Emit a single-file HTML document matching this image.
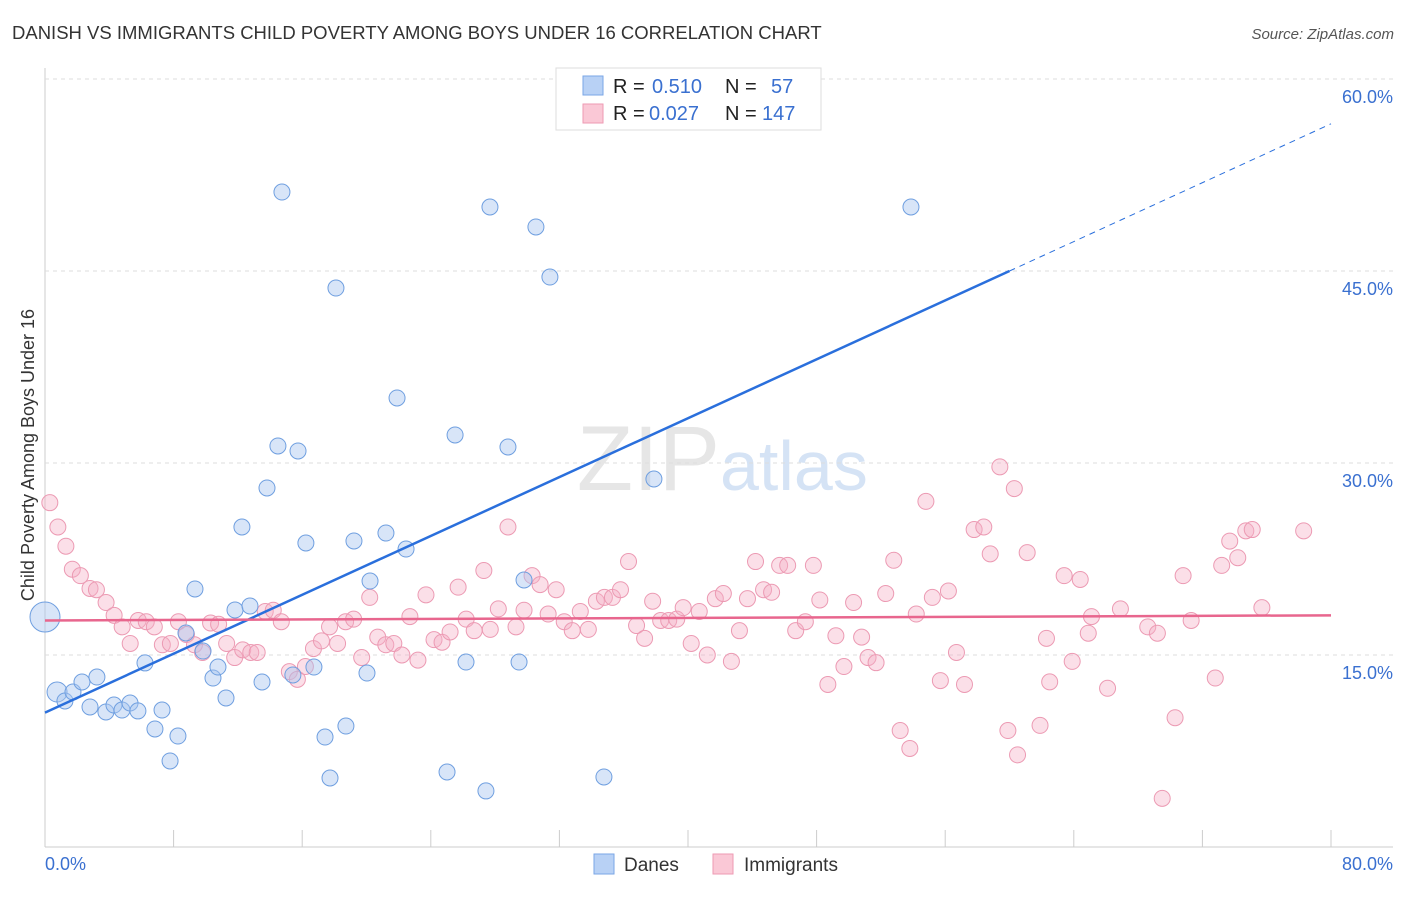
<!DOCTYPE html>
<html><head><meta charset="utf-8"><style>
body{margin:0;background:#fff;font-family:"Liberation Sans",sans-serif;}
svg text{font-family:"Liberation Sans",sans-serif;}
</style></head><body>
<svg id="c" width="1406" height="892">
<text x="12" y="39" font-size="18.5" fill="#333">DANISH VS IMMIGRANTS CHILD POVERTY AMONG BOYS UNDER 16 CORRELATION CHART</text>
<text x="1394" y="39" font-size="15" fill="#555" font-style="italic" text-anchor="end">Source: ZipAtlas.com</text>
<text x="720" y="490" font-size="92" fill="#e6e6e6" text-anchor="end" font-family="Liberation Serif">ZIP</text>
<text x="720" y="490" font-size="70" fill="#d5e3f5">atlas</text>
<g id="grid"></g><g id="pts"></g><g id="lines"></g>
<text x="34" y="455" font-size="18" fill="#333" text-anchor="middle" transform="rotate(-90 34 455)">Child Poverty Among Boys Under 16</text>
<text x="45" y="870" font-size="18" fill="#3a70d0">0.0%</text>
<text x="1393" y="870" font-size="18" fill="#3a70d0" text-anchor="end">80.0%</text>
<g>
<rect x="556" y="68" width="265" height="62" fill="#fff" stroke="#ddd"/>
<rect x="583" y="76" width="20" height="19" fill="#b8d1f5" stroke="#7aa6e6"/>
<rect x="583" y="104" width="20" height="19" fill="#fac8d6" stroke="#ee9ab3"/>
<text x="613" y="93" font-size="20" fill="#222">R =</text>
<text x="652" y="93" font-size="20" fill="#3a70d0">0.510</text>
<text x="725" y="93" font-size="20" fill="#222">N =</text>
<text x="771" y="93" font-size="20" fill="#3a70d0">57</text>
<text x="613" y="120" font-size="20" fill="#222">R =</text>
<text x="649" y="120" font-size="20" fill="#3a70d0">0.027</text>
<text x="725" y="120" font-size="20" fill="#222">N =</text>
<text x="762" y="120" font-size="20" fill="#3a70d0">147</text>
</g>
<g><rect x="594" y="854" width="20" height="20" fill="#b8d1f5" stroke="#7aa6e6"/><text x="624" y="871" font-size="19" fill="#333">Danes</text></g>
<g><rect x="713" y="854" width="20" height="20" fill="#fac8d6" stroke="#ee9ab3"/><text x="744" y="871" font-size="19" fill="#333">Immigrants</text></g>
</svg>
<script>
const yTicks=[15,30,45,60];
const daneX=[0,0.75,1.24,1.74,2.3,3.23,2.8,3.79,4.29,4.79,5.29,5.78,6.22,6.84,7.28,7.78,8.27,8.77,9.33,9.83,10.45,10.76,11.26,11.82,12.25,12.75,13.5,13.81,14.49,14.74,15.42,15.74,16.23,16.73,17.42,17.73,18.1,18.72,19.22,20.03,20.22,21.21,21.9,22.46,25.01,25.51,26.19,27.43,27.68,28.8,29.49,29.8,30.54,31.41,34.77,37.88,53.87];
const daneY=[17.97,12.11,11.41,12.11,12.89,13.28,10.94,10.55,11.09,10.7,11.25,10.63,14.38,9.22,10.7,6.72,8.67,16.72,20.16,15.31,13.2,14.06,11.64,18.52,25,18.83,12.89,28.05,31.33,51.17,13.44,30.94,23.75,14.06,8.59,5.39,43.67,9.45,23.91,13.59,20.78,24.53,35.08,23.28,5.86,32.19,14.45,4.38,50,31.25,14.45,20.86,48.44,44.53,5.47,28.75,50];
const immX=[0.3,0.8,1.3,1.7,2.2,2.8,3.2,3.8,4.3,4.8,5.3,5.8,6.3,6.8,7.3,7.8,8.3,8.8,9.3,9.8,10.3,10.8,11.3,11.8,12.3,12.8,13.2,13.7,14.2,14.7,15.2,15.7,16.2,16.7,17.2,17.7,18.2,18.7,19.2,19.7,20.2,20.7,21.2,21.7,22.2,22.7,23.2,23.7,24.2,24.7,25.2,25.7,26.2,26.7,27.3,27.7,28.2,28.8,29.3,29.8,30.3,30.8,31.3,31.8,32.3,32.8,33.3,33.8,34.3,34.8,35.3,35.8,36.3,36.8,37.3,37.8,38.3,38.8,39.3,39.7,40.2,40.7,41.2,41.7,42.2,42.7,43.2,43.7,44.2,44.7,45.2,45.7,46.2,46.7,47.3,47.8,48.2,48.7,49.2,49.7,50.3,50.8,51.2,51.7,52.3,52.8,53.2,53.8,54.2,54.8,55.2,55.7,56.2,56.7,57.2,57.8,58.4,58.8,59.4,59.9,60.3,60.5,61.1,61.9,62.3,62.5,63.4,63.9,64.4,64.9,65.1,66.1,66.9,68.6,69.2,69.5,70.3,70.8,71.3,72.8,73.2,73.7,74.2,74.7,75.1,75.7,78.3];
const immY=[26.9,25,23.5,21.7,21.2,20.2,20.1,19.1,18.1,17.2,15.9,17.7,17.6,17.2,15.8,15.9,17.6,16.6,15.8,15.2,17.5,17.4,15.9,14.8,15.4,15.2,15.2,18.4,18.5,17.6,13.7,13.1,14.1,15.5,16.1,17.2,15.9,17.6,17.8,14.8,19.5,16.4,15.8,15.9,15,18,14.6,19.7,16.2,16,16.8,20.3,17.8,16.9,21.6,17,18.6,25,17.2,18.5,21.2,20.5,18.2,20.1,17.6,16.9,18.4,17,19.2,19.5,19.5,20.1,22.3,17.3,16.3,19.2,17.7,17.7,17.8,18.7,15.9,18.4,15,19.4,19.8,14.5,16.9,19.4,22.3,20.1,19.9,22,22,16.9,17.6,22,19.3,12.7,16.5,14.1,19.1,16.4,14.8,14.4,19.8,22.4,9.1,7.7,18.2,27,19.5,13,20,15.2,12.7,24.8,25,22.9,29.7,9.1,28,7.2,23,9.5,16.3,12.9,21.2,14.5,20.9,16.7,18,12.4,18.6,17.2,16.7,3.8,10.1,21.2,17.7,13.2,22,23.9,22.6,24.7,24.8,18.7,24.7];
const daneFit=[10.5,0.575], daneFitEnd=60, immFit=[17.7,0.005];
const X=v=>45+v/80*1286, Y=v=>847-v/15*192;
const NS="http://www.w3.org/2000/svg";
function mk(tag,at,parent){const e=document.createElementNS(NS,tag);for(const k in at)e.setAttribute(k,at[k]);document.getElementById(parent).appendChild(e);return e;}
mk('line',{x1:45,y1:68,x2:45,y2:847,stroke:'#ccc'},'grid');
mk('line',{x1:45,y1:847,x2:1393,y2:847,stroke:'#ccc'},'grid');
for(let i=1;i<=10;i++){mk('line',{x1:X(i*8),y1:830,x2:X(i*8),y2:847,stroke:'#ccc'},'grid');}
yTicks.forEach(t=>{
 const l=mk('line',{x1:45,y1:Y(t),x2:1393,y2:Y(t),stroke:'#ddd','stroke-dasharray':'4,4'},'grid');
 
 
 const tx=mk('text',{x:1393,y:Y(t)+24,'font-size':18,fill:'#3a70d0','text-anchor':'end'},'grid');
 tx.textContent=t.toFixed(1)+'%';
 
 
});
immX.forEach((x,i)=>{
 const c=mk('circle',{cx:X(x),cy:Y(immY[i]),r:8,fill:'rgba(246,176,198,0.4)',stroke:'#ec9ab3','stroke-width':1},'pts');
 
 
});
daneX.forEach((x,i)=>{
 const r=i==0?15:(i==1?10:8);
 const c=mk('circle',{cx:X(x),cy:Y(daneY[i]),r:r,fill:'rgba(168,198,240,0.45)',stroke:'#6f9fe0','stroke-width':1},'pts');
 
 
});
const f=(p,x)=>p[0]+p[1]*x;
let l1=mk('line',{x1:X(0),y1:Y(f(daneFit,0)),x2:X(daneFitEnd),y2:Y(f(daneFit,daneFitEnd)),stroke:'#2a6fdc','stroke-width':2.5},'lines');


let l2=mk('line',{x1:X(daneFitEnd),y1:Y(f(daneFit,daneFitEnd)),x2:X(80),y2:Y(f(daneFit,80)),stroke:'#2a6fdc','stroke-width':1,'stroke-dasharray':'6,5'},'lines');


let l3=mk('line',{x1:X(0),y1:Y(f(immFit,0)),x2:X(80),y2:Y(f(immFit,80)),stroke:'#e8668e','stroke-width':2.5},'lines');


</script>
</body></html>
